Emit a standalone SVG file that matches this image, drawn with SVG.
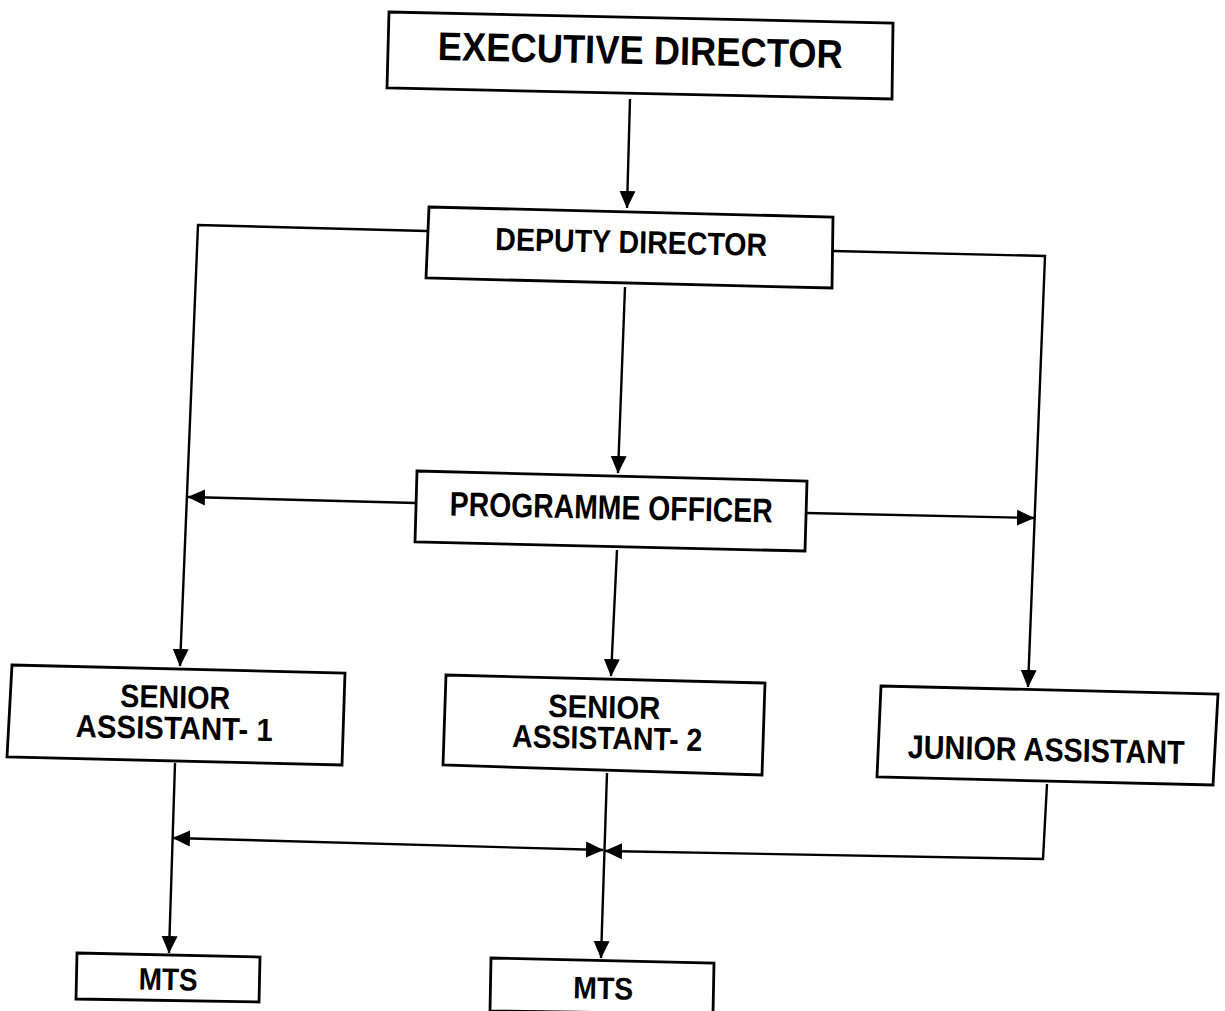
<svg xmlns="http://www.w3.org/2000/svg" width="1225" height="1011" viewBox="0 0 1225 1011">
<style>
.box{fill:#fff;stroke:#000;stroke-width:2.8;stroke-linejoin:miter}
.lbl{font-family:"Liberation Sans",Arial,sans-serif;font-weight:bold;fill:#000;text-anchor:middle}
.con{fill:none;stroke:#000;stroke-width:2.4;stroke-linejoin:miter}
</style>
<defs>
<marker id="arr" markerUnits="userSpaceOnUse" markerWidth="18" markerHeight="18" refX="17" refY="9" orient="auto-start-reverse" viewBox="0 0 18 18">
<path d="M0,1 L17.5,9 L0,17 Z" fill="#000"/>
</marker>
</defs>
<rect width="1225" height="1011" fill="#fff"/>

<g id="connectors">
<path class="con" d="M630,99 L627,208" marker-end="url(#arr)"/>
<path class="con" d="M427,231 L198,225 L180,666" marker-end="url(#arr)"/>
<path class="con" d="M833,251 L1045,256 L1028,687" marker-end="url(#arr)"/>
<path class="con" d="M625,287 L618,473" marker-end="url(#arr)"/>
<path class="con" d="M416,503 L188,497" marker-end="url(#arr)"/>
<path class="con" d="M806,513 L1034,518" marker-end="url(#arr)"/>
<path class="con" d="M617,550 L611,676" marker-end="url(#arr)"/>
<path class="con" d="M175,763 L169,953" marker-end="url(#arr)"/>
<path class="con" d="M607,773 L601,958" marker-end="url(#arr)"/>
<path class="con" d="M173,838 L603,850" marker-start="url(#arr)" marker-end="url(#arr)"/>
<path class="con" d="M1047,784 L1043,859 L605,851" marker-end="url(#arr)"/>
</g>

<g id="executive-director">
<polygon class="box" points="389,12 893,23 892,99 387,88"/>
<text class="lbl" x="640" y="64" font-size="40" textLength="405" lengthAdjust="spacingAndGlyphs" transform="rotate(1.1 640 64)">EXECUTIVE DIRECTOR</text>
</g>

<g id="deputy-director">
<polygon class="box" points="429,207 833,217 832,288 426,278"/>
<text class="lbl" x="631" y="253" font-size="32" textLength="272" lengthAdjust="spacingAndGlyphs" transform="rotate(1.3 631 253)">DEPUTY DIRECTOR</text>
</g>

<g id="programme-officer">
<polygon class="box" points="417,471 807,481 805,551 415,542"/>
<text class="lbl" x="611" y="519" font-size="34" textLength="323" lengthAdjust="spacingAndGlyphs" transform="rotate(1.2 611 519)">PROGRAMME OFFICER</text>
</g>

<g id="senior-assistant-1">
<polygon class="box" points="12,665 345,673 342,765 7,757"/>
<text class="lbl" x="175" y="708" font-size="32" textLength="110" lengthAdjust="spacingAndGlyphs" transform="rotate(1.2 175 708)">SENIOR</text>
<text class="lbl" x="174" y="739" font-size="32" textLength="197" lengthAdjust="spacingAndGlyphs" transform="rotate(1.2 174 739)">ASSISTANT- 1</text>
</g>

<g id="senior-assistant-2">
<polygon class="box" points="446,675 765,683 762,775 443,765"/>
<text class="lbl" x="604" y="718" font-size="32" textLength="112" lengthAdjust="spacingAndGlyphs" transform="rotate(1.2 604 718)">SENIOR</text>
<text class="lbl" x="607" y="749" font-size="32" textLength="190" lengthAdjust="spacingAndGlyphs" transform="rotate(1.2 607 749)">ASSISTANT- 2</text>
</g>

<g id="junior-assistant">
<polygon class="box" points="881,686 1218,694 1213,785 877,777"/>
<text class="lbl" x="1046" y="761" font-size="33" textLength="277" lengthAdjust="spacingAndGlyphs" transform="rotate(1.2 1046 761)">JUNIOR ASSISTANT</text>
</g>

<g id="mts-1">
<polygon class="box" points="77,953 260,957 259,1002 76,999"/>
<text class="lbl" x="168" y="990" font-size="31" textLength="59" lengthAdjust="spacingAndGlyphs" transform="rotate(1.2 168 990)">MTS</text>
</g>

<g id="mts-2">
<polygon class="box" points="491,958 714,963 713,1014 490,1011"/>
<text class="lbl" x="603" y="999" font-size="31" textLength="60" lengthAdjust="spacingAndGlyphs" transform="rotate(1.2 603 999)">MTS</text>
</g>
</svg>
